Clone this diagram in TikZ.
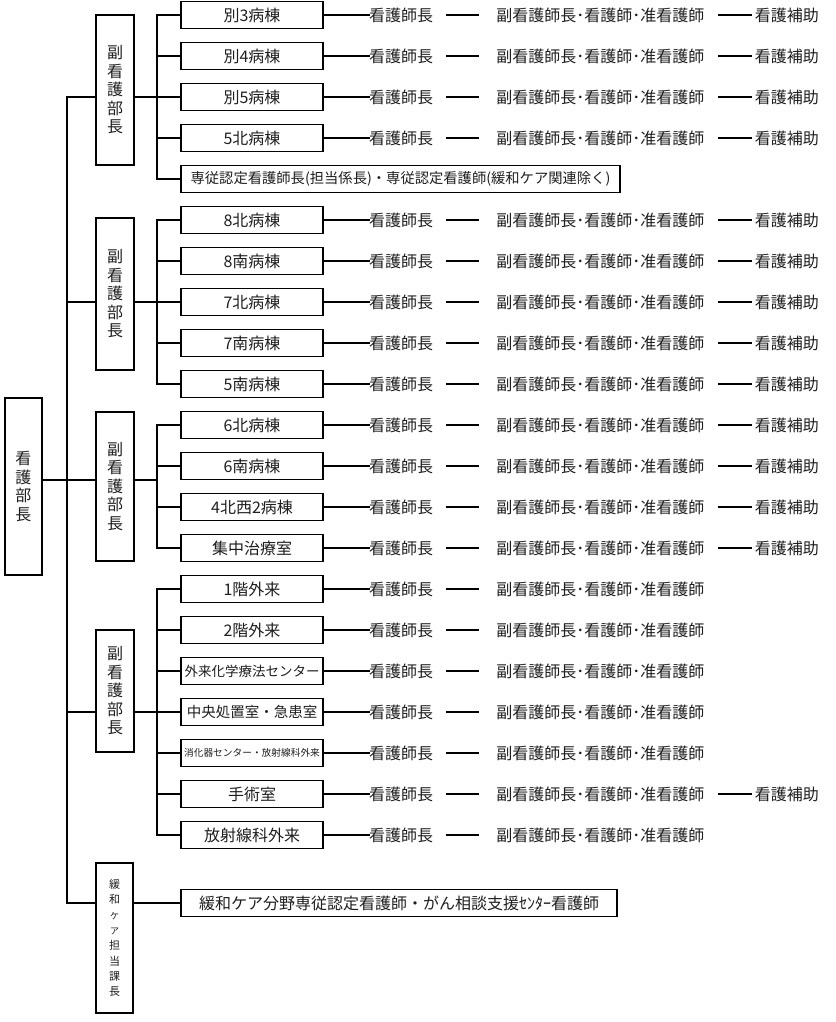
\documentclass[tikz,border=0pt]{standalone}
\usepackage{fontspec}
\setmainfont{Noto Sans CJK JP}
\usetikzlibrary{positioning,calc}
\definecolor{encre}{RGB}{30,30,30}
\tikzset{
  unite/.style={draw=black, line width=1.6pt, align=center, text=encre,
    font=\fontsize{16}{19}\selectfont, inner sep=0pt, minimum height=27pt, minimum width=#1},
  unite/.default=142pt,
  cadre/.style={draw=black, line width=1.6pt, align=center, text=encre,
    font=\fontsize{16}{18.5}\selectfont, inner sep=0pt, minimum width=38pt, minimum height=#1},
  cadre/.default=150pt,
  poste/.style={inner sep=0pt, text=encre, font=\fontsize{16}{19}\selectfont},
  trait/.style={draw=black, line width=1.6pt, line cap=rect},
}
\begin{document}
\begin{tikzpicture}[x=1pt, y=-1pt]
    \useasboundingbox (0,0) rectangle (835,1022);
    % Direction et adjoints
    \node[cadre=177pt, minimum width=37pt] (chef) at (23.5,486.5) {看\\護\\部\\長};
    \node[cadre=150pt] (adj1) at (115,90)    {副\\看\\護\\部\\長};
    \node[cadre=152pt] (adj2) at (115,294)   {副\\看\\護\\部\\長};
    \node[cadre=149pt] (adj3) at (115,486.5) {副\\看\\護\\部\\長};
    \node[cadre=122pt] (adj4) at (115,691)   {副\\看\\護\\部\\長};
    \node[cadre=150pt, minimum width=37pt, font=\fontsize{11}{15.3}\selectfont] (adj5) at (114.5,938) {緩\\和\\{\fontsize{9}{15.3}\selectfont ケ}\\{\fontsize{9}{15.3}\selectfont ア}\\担\\当\\課\\長};
    % Points de branchement
    \coordinate (t1) at (67,97);  \coordinate (t2) at (67,302);  \coordinate (t3) at (67,480);
    \coordinate (t4) at (67,712); \coordinate (t5) at (67,903);
    \coordinate (b1) at (157,97); \coordinate (b2) at (157,302); \coordinate (b3) at (157,480);
    \coordinate (b4) at (157,712);
    % Services
    \node[unite] (r0)  at (252,15)  {別3病棟};
    \node[unite] (r1)  at (252,56)  {別4病棟};
    \node[unite] (r2)  at (252,97)  {別5病棟};
    \node[unite] (r3)  at (252,138) {5北病棟};
    \node[unite=439pt, font=\fontsize{14.3}{16}\selectfont] (r4) at (400.5,179) {専従認定看護師長(担当係長)・専従認定看護師(緩和ケア関連除く)};
    \node[unite] (r5)  at (252,220) {8北病棟};
    \node[unite] (r6)  at (252,261) {8南病棟};
    \node[unite] (r7)  at (252,302) {7北病棟};
    \node[unite] (r8)  at (252,343) {7南病棟};
    \node[unite] (r9)  at (252,384) {5南病棟};
    \node[unite] (r10) at (252,425) {6北病棟};
    \node[unite] (r11) at (252,466) {6南病棟};
    \node[unite] (r12) at (252,507) {4北西2病棟};
    \node[unite] (r13) at (252,548) {集中治療室};
    \node[unite] (r14) at (252,589) {1階外来};
    \node[unite] (r15) at (252,630) {2階外来};
    \node[unite, font=\fontsize{13.5}{16}\selectfont] (r16) at (252,671) {外来化学療法センター};
    \node[unite, font=\fontsize{14.5}{16}\selectfont] (r17) at (252,712) {中央処置室・急患室};
    \node[unite, font=\fontsize{9.7}{12}\selectfont] (r18) at (252,753) {消化器センター・放射線科外来};
    \node[unite] (r19) at (252,794) {手術室};
    \node[unite] (r20) at (252,835) {放射線科外来};
    \node[unite=436pt] (r21) at (399,903) {緩和ケア分野専従認定看護師・がん相談支援ｾﾝﾀｰ看護師};
    % Postes
    \foreach \i in {0,1,2,3,5,6,...,20} {
      \node[poste, right=45pt of r\i] (cdl\i) {看護師長};
      \node[poste, right=63pt of cdl\i] (equipe\i) {副看護師長･看護師･准看護師};
      \draw[trait] (r\i.east) -- (cdl\i.west);
      \draw[trait, shorten <=14pt, shorten >=18pt] (cdl\i.east) -- (equipe\i.west);
    }
    \foreach \i in {0,1,2,3,5,6,...,13,19} {
      \node[poste, right=50pt of equipe\i] (aide\i) {看護補助};
      \draw[trait, shorten <=14pt, shorten >=3pt] (equipe\i.east) -- (aide\i.west);
    }
    % Liaisons
    \draw[trait] (t1) -- (t5);
    \draw[trait] (chef.east |- t3) -- (t3);
    \foreach \n in {1,...,5} \draw[trait] (t\n) -- (adj\n.west |- t\n);
    \foreach \n in {1,...,4} \draw[trait] (adj\n.east |- t\n) -- (b\n);
    \draw[trait] (adj5.east |- t5) -- (r21.west);
    \draw[trait] (b1 |- r0.west) -- (b1 |- r4.west);
    \draw[trait] (b2 |- r5.west) -- (b2 |- r9.west);
    \draw[trait] (b3 |- r10.west) -- (b3 |- r13.west);
    \draw[trait] (b4 |- r14.west) -- (b4 |- r20.west);
    \foreach \i in {0,...,20} \draw[trait] (b1 |- r\i.west) -- (r\i.west);
\end{tikzpicture}
\end{document}
